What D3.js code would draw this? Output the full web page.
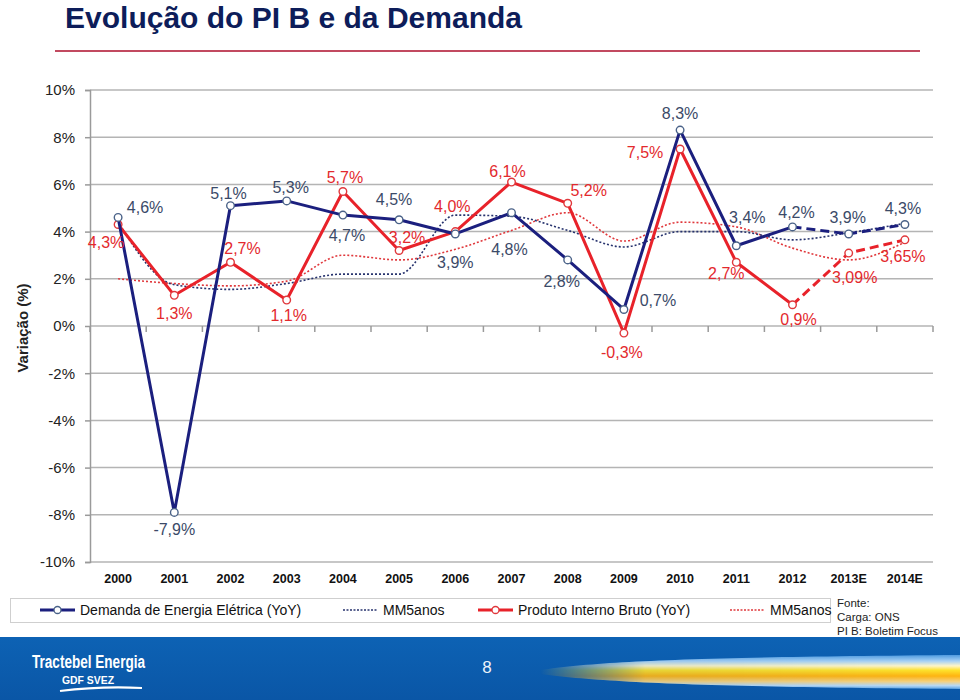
<!DOCTYPE html>
<html><head><meta charset="utf-8">
<script src="https://cdn.jsdelivr.net/npm/d3@7"></script>
<style>
body{margin:0;background:#fff;}
svg{display:block;font-family:"Liberation Sans",Arial,sans-serif;}
</style></head>
<body>
<svg id="c" width="960" height="700"></svg>
<script>
const years = ["2000","2001","2002","2003","2004","2005","2006","2007","2008","2009","2010","2011","2012","2013E","2014E"];
const demanda = [4.6,-7.9,5.1,5.3,4.7,4.5,3.9,4.8,2.8,0.7,8.3,3.4,4.2,3.9,4.3];
const demandaLabels = ["4,6%","-7,9%","5,1%","5,3%","4,7%","4,5%","3,9%","4,8%","2,8%","0,7%","8,3%","3,4%","4,2%","3,9%","4,3%"];
const demandaMM5 = [4.4,1.75,1.55,1.8,2.2,2.2,4.7,4.65,4.05,3.35,4.0,4.0,3.65,3.95,4.35];
const pib = [4.3,1.3,2.7,1.1,5.7,3.2,4.0,6.1,5.2,-0.3,7.5,2.7,0.9,3.09,3.65];
const pibLabels = ["4,3%","1,3%","2,7%","1,1%","5,7%","3,2%","4,0%","6,1%","5,2%","-0,3%","7,5%","2,7%","0,9%","3,09%","3,65%"];
const pibMM5 = [2.0,1.8,1.7,1.9,3.0,2.8,3.25,4.05,4.8,3.6,4.4,4.2,3.3,2.8,3.55];
const yTicks = [-10,-8,-6,-4,-2,0,2,4,6,8,10];
const forecastStart = 12; // index from which the line is dashed

// label placement offsets (dx, dy) relative to the point
const demandaOff = [[27,-10],[0,17],[-2,-12],[4,-13],[4,20],[-5,-20],[0,29],[-2,37],[-6,22],[34,-9],[0,-17],[11,-28],[4,-14],[-1,-16],[-2,-16]];
const pibOff = [[-12,18],[0,18],[12,-14],[2,15],[2,-14],[8,-13],[-3,-25],[-4,-11],[21,-13],[-2,19],[-35,3],[-10,11],[6,15],[6,24],[-2,17]];

const svg = d3.select("#c");
const C = {blue:"#1b1f7e", red:"#e8222a", blueTxt:"#3b4a68", redTxt:"#e3292d", grid:"#b4b4b4"};

// Title
svg.append("text").attr("x",65).attr("y",28).attr("font-size",29).attr("font-weight","bold")
  .attr("textLength",457).attr("lengthAdjust","spacingAndGlyphs")
  .attr("fill","#0d1d5a").text("Evolução do PI B e da Demanda");
svg.append("line").attr("x1",55).attr("x2",920).attr("y1",51).attr("y2",51)
  .attr("stroke","#c24a60").attr("stroke-width",2);

const x = d3.scaleBand().domain(years).range([90,933]);
const cx = d => x(d) + x.bandwidth()/2;
const y = d3.scaleLinear().domain([-10,10]).range([562,90]);

// Gridlines
svg.append("g").selectAll("line").data(yTicks).join("line")
  .attr("x1",90).attr("x2",933).attr("y1",d=>y(d)).attr("y2",d=>y(d))
  .attr("stroke",C.grid).attr("stroke-width",1.5);

// Y axis
const ya = svg.append("g").attr("transform","translate(90,0)")
  .call(d3.axisLeft(y).tickValues(yTicks).tickSize(5).tickPadding(10).tickFormat(d=>d+"%"));
ya.select(".domain").attr("stroke","#9a9a9a").attr("stroke-width",1.5);
ya.selectAll(".tick line").attr("stroke","#9a9a9a").attr("stroke-width",1.5);
ya.selectAll(".tick text").attr("font-size",15).attr("fill","#222").attr("font-family","Liberation Sans, Arial, sans-serif");

svg.append("text").attr("transform","translate(28,328) rotate(-90)").attr("text-anchor","middle")
  .attr("font-size",15).attr("font-weight","bold").attr("fill","#222").text("Variação (%)");

// X axis ticks along 0 line
const bounds = years.map(d=>x(d)).concat([933]);
svg.append("g").selectAll("line").data(bounds).join("line")
  .attr("x1",d=>d).attr("x2",d=>d).attr("y1",y(0)).attr("y2",y(0)+6)
  .attr("stroke","#9a9a9a").attr("stroke-width",1.5);
svg.append("g").selectAll("text").data(years).join("text")
  .attr("x",d=>cx(d)).attr("y",583).attr("text-anchor","middle")
  .attr("font-size",12.5).attr("font-weight","bold").attr("fill","#111").text(d=>d);

// Moving averages (dotted)
const mmLine = d3.line().x((v,i)=>cx(years[i])).y(v=>y(v)).curve(d3.curveMonotoneX);
svg.append("path").attr("d",mmLine(pibMM5)).attr("fill","none").attr("stroke","#e0383c")
  .attr("stroke-width",1.6).attr("stroke-dasharray","2,2");
svg.append("path").attr("d",mmLine(demandaMM5)).attr("fill","none").attr("stroke","#27336e")
  .attr("stroke-width",1.6).attr("stroke-dasharray","2,2");

// Main series
function series(vals, color, markerStroke){
  const pts = vals.map((v,i)=>[cx(years[i]), y(v)]);
  const ln = d3.line();
  svg.append("path").attr("d",ln(pts.slice(0,forecastStart+1))).attr("fill","none")
    .attr("stroke",color).attr("stroke-width",3).attr("stroke-linejoin","round");
  svg.append("path").attr("d",ln(pts.slice(forecastStart))).attr("fill","none")
    .attr("stroke",color).attr("stroke-width",3).attr("stroke-dasharray","9,5");
  svg.append("g").selectAll("circle").data(pts).join("circle")
    .attr("cx",d=>d[0]).attr("cy",d=>d[1]).attr("r",3.8)
    .attr("fill","#fff").attr("stroke",markerStroke).attr("stroke-width",1.4);
}
series(pib, C.red, "#e0383c");
series(demanda, C.blue, "#4a6288");

function labels(vals, txt, off, color){
  svg.append("g").selectAll("text").data(vals).join("text")
    .attr("x",(v,i)=>cx(years[i])+off[i][0])
    .attr("y",(v,i)=>y(v)+off[i][1]+5.5)
    .attr("text-anchor","middle").attr("font-size",16).attr("fill",color)
    .text((v,i)=>txt[i]);
}
labels(demanda, demandaLabels, demandaOff, C.blueTxt);
labels(pib, pibLabels, pibOff, C.redTxt);

// Legend
const lg = svg.append("g");
lg.append("rect").attr("x",10.5).attr("y",598.5).attr("width",820).attr("height",24)
  .attr("fill","#fff").attr("stroke","#cfcfcf");
const legendItems = [
  {x:40, label:"Demanda de Energia Elétrica (YoY)", color:C.blue, mk:"#4a6288", type:"solid"},
  {x:343, label:"MM5anos", color:"#27336e", type:"dot"},
  {x:478, label:"Produto Interno Bruto (YoY)", color:C.red, mk:"#e0383c", type:"solid"},
  {x:730, label:"MM5anos", color:"#e0383c", type:"dot"}
];
legendItems.forEach(it=>{
  if(it.type==="solid"){
    lg.append("line").attr("x1",it.x).attr("x2",it.x+35).attr("y1",610).attr("y2",610)
      .attr("stroke",it.color).attr("stroke-width",3);
    lg.append("circle").attr("cx",it.x+17.5).attr("cy",610).attr("r",3.5)
      .attr("fill","#fff").attr("stroke",it.mk).attr("stroke-width",1.3);
  } else {
    lg.append("line").attr("x1",it.x).attr("x2",it.x+34).attr("y1",610).attr("y2",610)
      .attr("stroke",it.color).attr("stroke-width",1.6).attr("stroke-dasharray","2,1.5");
  }
  lg.append("text").attr("x",it.x+40).attr("y",615).attr("font-size",14).attr("fill","#111").text(it.label);
});

// Source
const src = ["Fonte:","Carga: ONS","PI B: Boletim Focus"];
svg.append("g").selectAll("text").data(src).join("text")
  .attr("x",837).attr("y",(d,i)=>607+i*14).attr("font-size",11.5).attr("fill","#222")
  .attr("font-family","Liberation Sans Narrow, Arial Narrow, Liberation Sans, sans-serif").text(d=>d);

// Footer
const defs = svg.append("defs");
const fg = defs.append("linearGradient").attr("id","foot").attr("x1",0).attr("x2",0).attr("y1",0).attr("y2",1);
fg.append("stop").attr("offset","0").attr("stop-color","#0d62b4");
fg.append("stop").attr("offset","1").attr("stop-color","#0a56a6");
svg.append("rect").attr("x",0).attr("y",637).attr("width",960).attr("height",63).attr("fill","url(#foot)");

const sg = defs.append("linearGradient").attr("id","streakV").attr("x1",0).attr("x2",0).attr("y1",0).attr("y2",1);
[["0","#4f9be0"],["0.18","#a8d2f6"],["0.32","#fff6c8"],["0.45","#ffe22a"],["0.62","#ffb410"],["0.78","#f7d27e"],["0.9","#b8daf6"],["1","#5aa2e4"]]
  .forEach(s=>sg.append("stop").attr("offset",s[0]).attr("stop-color",s[1]));
const mg = defs.append("linearGradient").attr("id","streakH").attr("x1",0).attr("x2",1).attr("y1",0).attr("y2",0);
mg.append("stop").attr("offset","0").attr("stop-color","#fff").attr("stop-opacity",0);
mg.append("stop").attr("offset","0.25").attr("stop-color","#fff").attr("stop-opacity",0.9);
mg.append("stop").attr("offset","1").attr("stop-color","#fff").attr("stop-opacity",1);
const mask = defs.append("mask").attr("id","streakMask");
mask.append("rect").attr("x",540).attr("y",650).attr("width",420).attr("height",45).attr("fill","url(#streakH)");
svg.append("path").attr("d","M540,670 C600,661 700,657 960,655 L960,689 C700,687 600,682 540,674 Z")
  .attr("fill","url(#streakV)").attr("mask","url(#streakMask)");

svg.append("text").attr("x",32).attr("y",668).attr("font-size",18).attr("font-weight","bold").attr("fill","#fff")
  .attr("textLength",113).attr("lengthAdjust","spacingAndGlyphs").text("Tractebel Energia");
svg.append("text").attr("x",62).attr("y",684).attr("font-size",10).attr("fill","#fff").attr("font-weight","bold")
  .attr("textLength",52).attr("lengthAdjust","spacingAndGlyphs").text("GDF SVEZ");
svg.append("path").attr("d","M60,691 Q100,686 142,688").attr("fill","none").attr("stroke","#fff").attr("stroke-width",2.2);
svg.append("text").attr("x",487).attr("y",673).attr("text-anchor","middle").attr("font-size",17)
  .attr("fill","#eef3fa").text("8");
</script>
</body></html>
